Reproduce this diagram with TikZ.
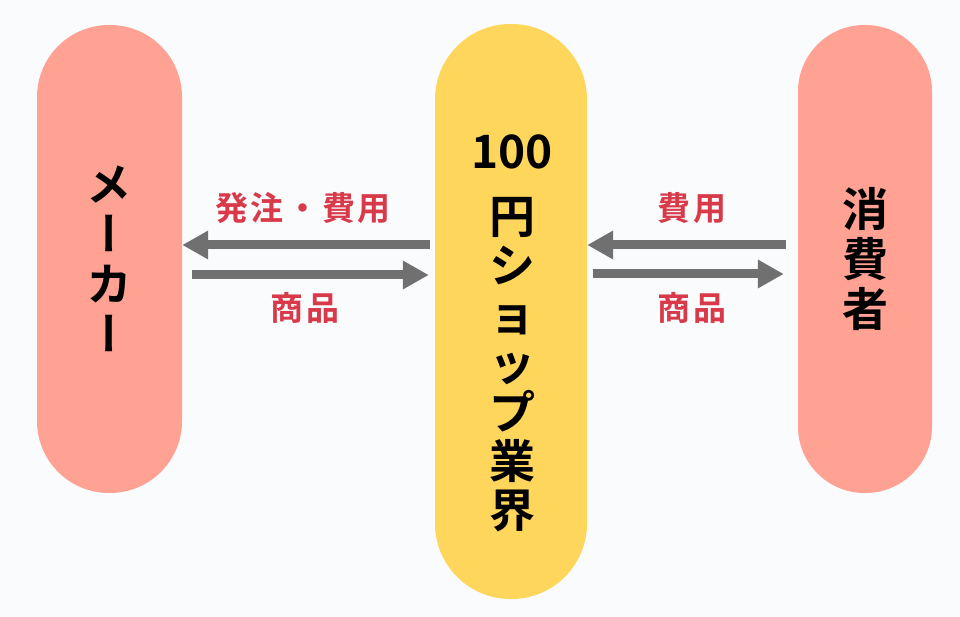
\documentclass[tikz,border=0pt]{standalone}
\usepackage{fontspec}
\usetikzlibrary{arrows.meta}
\usetikzlibrary{calc, shapes, backgrounds}
\newfontfamily\jpfont{Noto Sans CJK JP Bold}
\newfontfamily\jpvert{Noto Sans CJK JP Bold}[RawFeature=+vert]
\newfontfamily\jplabel{Noto Sans CJK JP Bold}[LetterSpace=8]
\definecolor{pillpink}{RGB}{255,161,147}
\definecolor{pillyellow}{RGB}{255,214,92}
\definecolor{labelred}{RGB}{216,58,74}
\definecolor{arrowgray}{RGB}{112,112,112}
\definecolor{paper}{RGB}{250,251,253}
\tikzstyle{pill} = [rectangle, draw=none, text=black, align=center, inner sep=0pt, font=\jpvert\fontsize{46}{50}\selectfont]
\tikzstyle{flowlabel} = [inner sep=0pt, text=labelred, font=\jplabel\fontsize{33}{36}\selectfont]
\tikzstyle{arrow} = [line width=9pt, draw=arrowgray, -{Triangle[length=26pt, width=27pt]}]

\begin{document}
\begin{tikzpicture}[x=1pt, y=-1pt]
	\fill[paper] (0,0) rectangle (960,617);

	% Pills
	\node[pill, fill=pillpink, minimum width=145pt, minimum height=468pt, rounded corners=72pt] (maker) at (109.5,259) {メ\\ー\\カ\\ー};
	\node[pill, fill=pillyellow, minimum width=152pt, minimum height=575pt, rounded corners=75.5pt] (shop) at (511,311.5) {};
	\node[pill, fill=pillpink, minimum width=134pt, minimum height=468pt, rounded corners=66.5pt, font=\jpfont\fontsize{46}{50}\selectfont] (buyer) at (865,259) {消\\費\\者};
	\node[align=center, inner sep=0pt, font=\jpfont\fontsize{46}{49}\selectfont] (shoptext) at (512,333) {100\\[16pt]円\\シ\\ョ\\ッ\\プ\\業\\界};

	% Arrows
	\draw[arrow] ($(shop.west |- maker.east)+(-5,-14)$) -- ($(maker.east)+(0,-14)$);
	\draw[arrow] ($(maker.east)+(10,16)$) -- ($(shop.west |- maker.east)+(-6,16)$);
	\draw[arrow] ($(buyer.west)+(-12,-14)$) -- ($(shop.east |- buyer.west)+(0,-14)$);
	\draw[arrow] ($(shop.east |- buyer.west)+(6,15)$) -- ($(buyer.west)+(-14,15)$);

	% Labels
	\node[flowlabel] (orderlbl) at (303,208) {発注・費用};
	\node[flowlabel] (goodslbl) at (305,308) {商品};
	\node[flowlabel] (paylbl) at (692,208) {費用};
	\node[flowlabel] (itemlbl) at (692,308) {商品};
\end{tikzpicture}
\end{document}
